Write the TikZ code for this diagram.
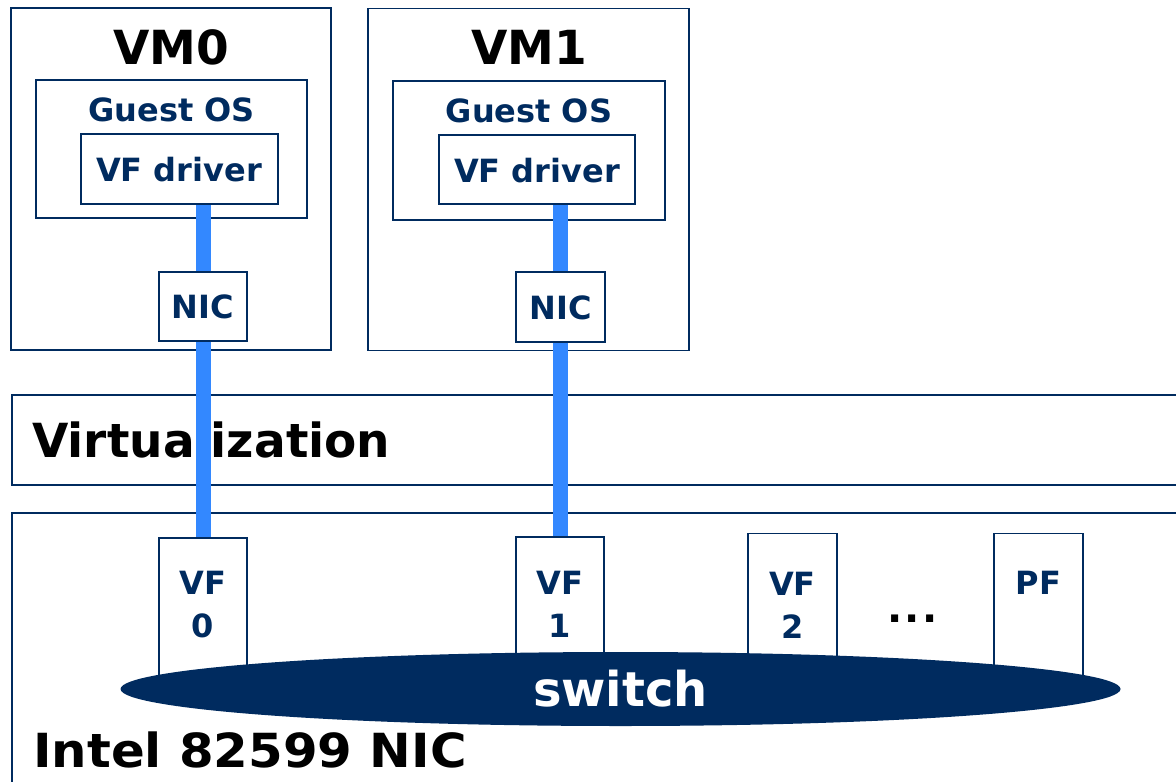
\documentclass[tikz,border=0pt]{standalone}
\usepackage{fontspec}
\setmainfont{DejaVu Sans}
\newfontfamily\widefont[FakeStretch=1.06]{DejaVu Sans}
\usetikzlibrary{shapes.geometric}
\definecolor{navy}{HTML}{002B5F}
\definecolor{barblue}{HTML}{3388FF}
\tikzset{
  box/.style={draw=navy, line width=1.7pt, rectangle, inner sep=0pt, fill=white},
  bluelbl/.style={text=navy, inner sep=0pt, font=\fontsize{32}{43}\selectfont\bfseries, align=center},
  biglbl/.style={text=black, inner sep=0pt, font=\fontsize{47}{56}\selectfont\bfseries},
  bar/.style={draw=barblue, line width=15pt},
  switchshape/.style={ellipse, fill=navy, draw=none, inner sep=0pt, minimum width=1000pt, minimum height=74pt,
     text=white, font=\fontsize{48}{56}\selectfont\bfseries}
}
\begin{document}
\begin{tikzpicture}[x=1pt,y=-1pt]
\clip (0,0) rectangle (1176,782);
\fill[white] (0,0) rectangle (1176,782);
% VM boxes
\node[box, minimum width=320pt, minimum height=342pt] (vm0) at (171,179) {};
\node[box, minimum width=321pt, minimum height=342pt] (vm1) at (528.5,179.5) {};
\node[biglbl] (vm0l) at (171,47.5) {VM0};
\node[biglbl] (vm1l) at (529,47.5) {VM1};
% Guest OS
\node[box, minimum width=271pt, minimum height=138pt] (go0) at (171.5,149) {};
\node[box, minimum width=272pt, minimum height=139pt] (go1) at (529,150.5) {};
\node[bluelbl] (go0l) at (171.5,110) {Guest OS};
\node[bluelbl] (go1l) at (529,110.5) {Guest OS};
% VF driver
\node[box, minimum width=197pt, minimum height=70pt] (vfd0) at (179.5,169) {};
\node[box, minimum width=196pt, minimum height=69pt] (vfd1) at (537,169.5) {};
\node[bluelbl] (vfd0l) at (179,170) {VF driver};
\node[bluelbl] (vfd1l) at (537,170.5) {VF driver};
% NIC
\node[box, minimum width=88pt, minimum height=69pt] (nic0) at (203,306.5) {};
\node[box, minimum width=89pt, minimum height=70pt] (nic1) at (560.5,307) {};
\node[bluelbl] (nic0l) at (203,307) {NIC};
\node[bluelbl] (nic1l) at (560.5,308) {NIC};
% Virtualization
\node[box, minimum width=1200pt, minimum height=90pt, anchor=north west] (virt) at (11,394) {};
\node[biglbl, anchor=west] (virtl) at (32,440) {Virtualization};
% Intel NIC
\node[box, minimum width=1200pt, minimum height=300pt, anchor=north west] (intel) at (11,512) {};
\node[biglbl, anchor=west, font=\fontsize{47}{56}\widefont\bfseries] (intell) at (33,749.5) {Intel 82599 NIC};
% VF boxes
\node[box, minimum width=88pt, minimum height=160pt, anchor=north] (vf0) at (203,537) {};
\node[box, minimum width=88pt, minimum height=160pt, anchor=north] (vf1) at (560,536) {};
\node[box, minimum width=89pt, minimum height=160pt, anchor=north] (vf2) at (792.5,532.5) {};
\node[box, minimum width=89pt, minimum height=160pt, anchor=north] (pf) at (1038.5,532.5) {};
\node[bluelbl] (vf0l) at (203,605) {VF\\0};
\node[bluelbl] (vf1l) at (560,604.5) {VF\\1};
\node[bluelbl] (vf2l) at (792.5,605) {VF\\2};
\node[bluelbl] (pfl) at (1038.5,583) {PF};
\node[text=black, inner sep=0pt, font=\fontsize{40}{50}\selectfont\bfseries] (dots) at (912.5,619) {.\kern2.5pt.\kern2.5pt.};
% switch
\node[switchshape] (sw) at (620.5,689) {switch};
% bars
\draw[bar] (nic0.north |- vfd0.south) -- (nic0.north);
\draw[bar] (nic0.south) -- (vf0.north);
\draw[bar] (nic1.north |- vfd1.south) -- (nic1.north);
\draw[bar] (nic1.south) -- (vf1.north -| nic1.south);
\end{tikzpicture}
\end{document}
